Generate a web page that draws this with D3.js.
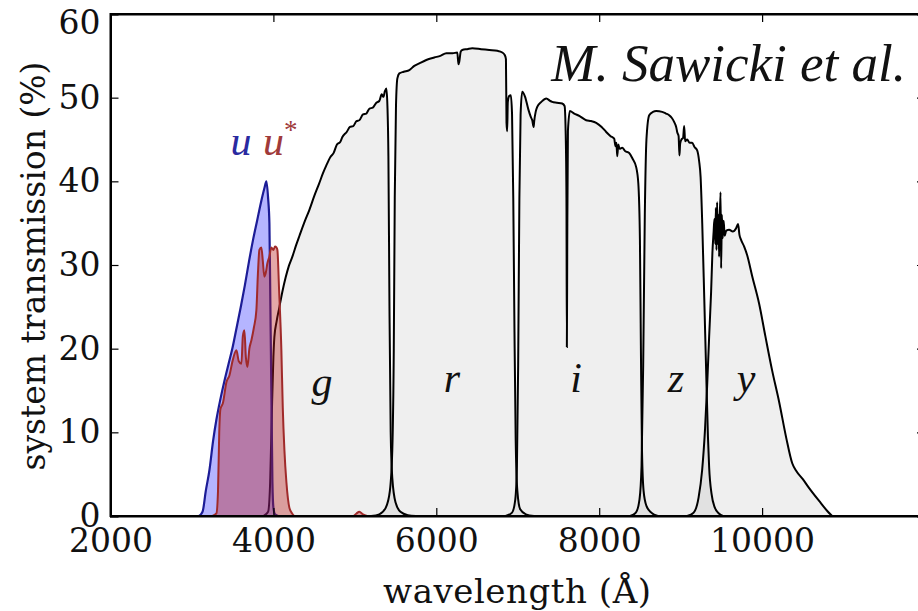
<!DOCTYPE html>
<html>
<head>
<meta charset="utf-8">
<script src="https://cdn.jsdelivr.net/npm/d3@7"></script>
<style>
  body { margin: 0; background: #fff; }
  svg { display: block; }
  .tick text { font-family: "DejaVu Serif", serif; font-size: 33px; fill: #111; }
</style>
</head>
<body>
<div id="chart"></div>
<script>
// filter curves, [wavelength (A), transmission (%)]
var uBand = [[3000,0],[3080,0],[3130,0.5],[3170,3],[3215,5.5],[3260,9],[3300,11.5],[3350,14],[3400,16.2],[3450,18.2],[3500,20.2],[3550,22.6],[3600,25],[3650,27.6],[3700,30.4],[3750,33],[3800,35.3],[3850,37.6],[3890,39.2],[3914,40],[3935,38],[3951,35],[3963,25],[3975,15],[3988,4],[4000,1],[4020,0.2],[4060,0]];

var uStarBand = [[3250,0],[3300,0.3],[3320,3],[3335,10],[3350,12.8],[3380,13.5],[3423,16],[3460,16.8],[3500,18.6],[3546,19.8],[3575,18.5],[3607,18.2],[3625,21.5],[3644,22.2],[3662,19],[3681,17.8],[3705,20],[3730,21],[3760,22.5],[3791,24.6],[3810,29],[3828,31.8],[3852,32.1],[3870,30.5],[3889,28.6],[3905,29],[3926,30.2],[3950,31],[3975,32.1],[4000,31.8],[4020,32.2],[4037,32.1],[4049,31.8],[4070,27],[4098,19.8],[4115,13],[4135,7.9],[4160,4],[4196,1],[4230,0.3],[4260,0],[4980,0],[5020,0.3],[5055,0.5],[5100,0.2],[5150,0]];

var gBand = [[3880,0],[3935,0.5],[3960,4],[3980,12],[4000,19],[4012,21.4],[4040,23.3],[4074,25],[4110,26.8],[4150,28.5],[4190,29.9],[4233,31],[4280,32.4],[4320,33.5],[4380,35.1],[4442,36.6],[4500,38.2],[4560,39.7],[4610,41],[4650,41.9],[4700,42.9],[4740,43.4],[4780,44.4],[4820,44.7],[4847,45.3],[4900,45.9],[4940,46.5],[4980,46.6],[5020,47.2],[5055,47.3],[5100,48],[5140,48.1],[5180,48.7],[5220,48.8],[5264,49.4],[5300,49.6],[5330,50.4],[5350,50.1],[5370,50.8],[5387,51.1],[5400,49],[5412,43],[5425,25],[5440,10],[5460,4.5],[5500,1.6],[5560,0.5],[5650,0.1],[5750,0]];

var rBand = [[5200,0],[5300,0.2],[5380,1],[5430,3],[5460,8],[5478,20],[5490,38],[5505,49],[5522,52.3],[5546,52.9],[5600,53.1],[5669,53.3],[5730,53.8],[5792,54.1],[5877,54.5],[5975,54.8],[6050,55],[6123,55.3],[6200,55.3],[6258,55.4],[6272,54],[6282,54.3],[6300,55.5],[6319,55.7],[6380,55.8],[6442,55.9],[6550,55.8],[6650,55.7],[6750,55.6],[6810,55.4],[6840,55.1],[6855,54.6],[6862,47],[6870,46],[6878,49.5],[6895,50.2],[6915,50.3],[6930,48],[6945,38],[6960,22],[6975,9],[6995,3],[7030,0.8],[7100,0.2],[7200,0]];

var iBand = [[6850,0],[6930,0.4],[6970,2],[6990,6],[7005,18],[7020,38],[7035,48],[7055,50.7],[7090,50.1],[7130,48.6],[7160,47.7],[7178,47.3],[7195,46.5],[7202,47.2],[7220,48.3],[7239,48.9],[7290,49.5],[7350,49.9],[7400,49.6],[7423,49.5],[7480,49.4],[7546,49.3],[7575,49],[7588,46],[7598,38],[7603,20.2],[7608,33],[7616,46],[7640,48.4],[7693,48.1],[7760,47.8],[7840,47.3],[7900,47.2],[7963,47],[8030,46.5],[8086,45.9],[8140,45.4],[8184,45.1],[8200,44.2],[8212,44.6],[8221,43],[8235,44.4],[8250,43.9],[8282,44],[8320,43.6],[8368,43.4],[8410,42.7],[8454,41.7],[8480,39.8],[8500,33],[8512,20],[8525,8],[8545,3],[8580,1.2],[8640,0.4],[8720,0]];

var zBand = [[8380,0],[8450,0.4],[8495,2],[8520,6],[8540,18],[8560,36],[8580,45],[8614,47.9],[8660,48.3],[8700,48.4],[8773,48.3],[8820,48.1],[8859,47.9],[8890,47.6],[8920,47.1],[8945,46.5],[8960,45.8],[8975,45.4],[8985,43.1],[8994,44.5],[9010,45],[9030,45.2],[9043,46.6],[9055,44.8],[9080,45],[9110,44.6],[9141,44.6],[9170,44.1],[9203,43.7],[9227,42.4],[9245,40.5],[9265,35],[9290,26],[9313,17.4],[9335,9.5],[9350,5.8],[9380,2.6],[9420,1],[9470,0.3],[9520,0]];

var yBand = [[9080,0],[9160,0.4],[9220,2.2],[9264,5.5],[9300,10.5],[9325,15.5],[9350,21.5],[9374,26.8],[9390,31.5],[9405,34],[9415,35.5],[9425,32.5],[9432,36.8],[9440,31.8],[9448,37.5],[9456,32.5],[9464,36],[9472,31],[9480,35.5],[9490,38.7],[9497,29.6],[9506,36],[9516,33.2],[9528,35.3],[9540,33.5],[9560,34.1],[9595,34.2],[9640,34],[9681,34.4],[9705,34.9],[9722,33.6],[9742,33],[9780,32.2],[9816,31.2],[9880,28.6],[9963,25.4],[10040,21.5],[10123,17.4],[10210,13.6],[10295,9.4],[10370,6.3],[10418,5.4],[10500,4.4],[10580,3.3],[10700,1.8],[10800,0.6],[10860,0]];

var greyBands = [gBand, rBand, iBand, zBand, yBand];

var xTicks = [2000, 4000, 6000, 8000, 10000, 12000];
var xTickLabels = ['2000', '4000', '6000', '8000', '10000', ''];  // 12000 falls off the picture
var yTicks = [0, 10, 20, 30, 40, 50, 60];

// band names, placed at [wavelength, transmission]
var bandNames = [
  { name: 'g', at: [4597, 14.4] },
  { name: 'r', at: [6193, 14.8] },
  { name: 'i', at: [7715, 14.8] },
  { name: 'z', at: [8943, 14.8] },
  { name: 'y', at: [9802, 14.8] }
];

var width = 918, height = 611;
var margin = { left: 110.5, right: 925, top: 14, bottom: 516 };

var svg = d3.select('#chart').append('svg')
  .attr('width', width)
  .attr('height', height);

var x = d3.scaleLinear().domain([2000, 12000]).range([margin.left, margin.right]);
var y = d3.scaleLinear().domain([0, 60]).range([margin.bottom, margin.top]);

svg.append('clipPath').attr('id', 'plotclip')
  .append('rect')
  .attr('x', margin.left).attr('y', margin.top)
  .attr('width', margin.right - margin.left)
  .attr('height', margin.bottom - margin.top);

var plot = svg.append('g').attr('clip-path', 'url(#plotclip)');

var area = d3.area()
  .x(function(d) { return x(d[0]); })
  .y0(y(0))
  .y1(function(d) { return y(d[1]); })
  .curve(d3.curveMonotoneX);

var line = d3.line()
  .x(function(d) { return x(d[0]); })
  .y(function(d) { return y(d[1]); })
  .curve(d3.curveMonotoneX);

// grey filters first
greyBands.forEach(function(b) {
  plot.append('path').datum(b)
    .attr('d', area)
    .attr('fill', 'rgba(120,120,120,0.12)');
});
greyBands.forEach(function(b) {
  plot.append('path').datum(b)
    .attr('d', line)
    .attr('fill', 'none')
    .attr('stroke', '#000')
    .attr('stroke-width', 2);
});

// u (blue) and u* (red)
plot.append('path').datum(uBand)
  .attr('d', area)
  .attr('fill', 'rgba(30,30,255,0.33)');
plot.append('path').datum(uBand)
  .attr('d', line)
  .attr('fill', 'none')
  .attr('stroke', '#1c1c96')
  .attr('stroke-width', 2.2);

plot.append('path').datum(uStarBand)
  .attr('d', area)
  .attr('fill', 'rgba(185,25,25,0.38)');
plot.append('path').datum(uStarBand)
  .attr('d', line)
  .attr('fill', 'none')
  .attr('stroke', '#a02a2a')
  .attr('stroke-width', 2);

// axes with inward ticks on all four sides
svg.append('g')
  .attr('transform', 'translate(0,' + margin.bottom + ')')
  .call(d3.axisBottom(x).tickValues(xTicks).tickSize(-8).tickPadding(13)
    .tickFormat(function(d, i) { return xTickLabels[i]; }));
svg.append('g')
  .attr('transform', 'translate(0,' + margin.top + ')')
  .call(d3.axisTop(x).tickValues(xTicks).tickSize(-8).tickFormat(''));
var yAxis = svg.append('g')
  .attr('transform', 'translate(' + margin.left + ',0)')
  .call(d3.axisLeft(y).tickValues(yTicks).tickSize(-8).tickPadding(10));
svg.append('g')
  .attr('transform', 'translate(' + margin.right + ',0)')
  .call(d3.axisRight(y).tickValues(yTicks).tickSize(-8).tickFormat(''));

// the "60" label sits a bit low in the original
yAxis.selectAll('.tick text').filter(function(d) { return d === 60; }).attr('dy', '0.6em');

svg.selectAll('.domain').attr('stroke', '#000').attr('stroke-width', 2);
svg.selectAll('.tick line').attr('stroke', '#000').attr('stroke-width', 1.2);

// frame
svg.append('rect')
  .attr('x', margin.left).attr('y', margin.top)
  .attr('width', margin.right - margin.left)
  .attr('height', margin.bottom - margin.top)
  .attr('fill', 'none')
  .attr('stroke', '#000')
  .attr('stroke-width', 2);

// axis titles
svg.append('text')
  .attr('x', 517)
  .attr('y', 603)
  .attr('text-anchor', 'middle')
  .attr('textLength', 268)
  .style('font-family', '"DejaVu Serif", serif')
  .style('font-size', '34px')
  .attr('fill', '#111')
  .text('wavelength (Å)');

svg.append('text')
  .attr('transform', 'translate(45,' + ((margin.top + margin.bottom) / 2 + 1) + ') rotate(-90)')
  .attr('text-anchor', 'middle')
  .style('font-family', '"DejaVu Serif", serif')
  .style('font-size', '33px')
  .attr('fill', '#111')
  .text('system transmission (%)');

// credit
svg.append('text')
  .attr('x', 906)
  .attr('y', 81)
  .attr('text-anchor', 'end')
  .style('font-family', '"Liberation Serif", serif')
  .style('font-style', 'italic')
  .style('font-size', '53px')
  .attr('fill', '#111')
  .text('M. Sawicki et al.');

// band labels
var labelFont = '"Liberation Serif", serif';
svg.selectAll('.band-name').data(bandNames).enter().append('text')
  .attr('class', 'band-name')
  .attr('x', function(d) { return x(d.at[0]); })
  .attr('y', function(d) { return y(d.at[1]); })
  .attr('text-anchor', 'middle')
  .style('font-family', labelFont)
  .style('font-style', 'italic')
  .style('font-size', '42px')
  .attr('fill', '#111')
  .text(function(d) { return d.name; });

svg.append('text')
  .attr('x', x(3602)).attr('y', y(43.1))
  .attr('text-anchor', 'middle')
  .style('font-family', labelFont).style('font-style', 'italic').style('font-size', '42px')
  .attr('fill', '#2a2aa0')
  .text('u');

var us = svg.append('text')
  .attr('x', x(3872)).attr('y', y(43.1))
  .style('font-family', labelFont).style('font-style', 'italic').style('font-size', '42px')
  .attr('fill', '#a03a3a');
us.append('tspan').text('u');
us.append('tspan').attr('dy', -16).style('font-size', '27px').style('font-style', 'normal').text('*');
</script>
</body>
</html>
